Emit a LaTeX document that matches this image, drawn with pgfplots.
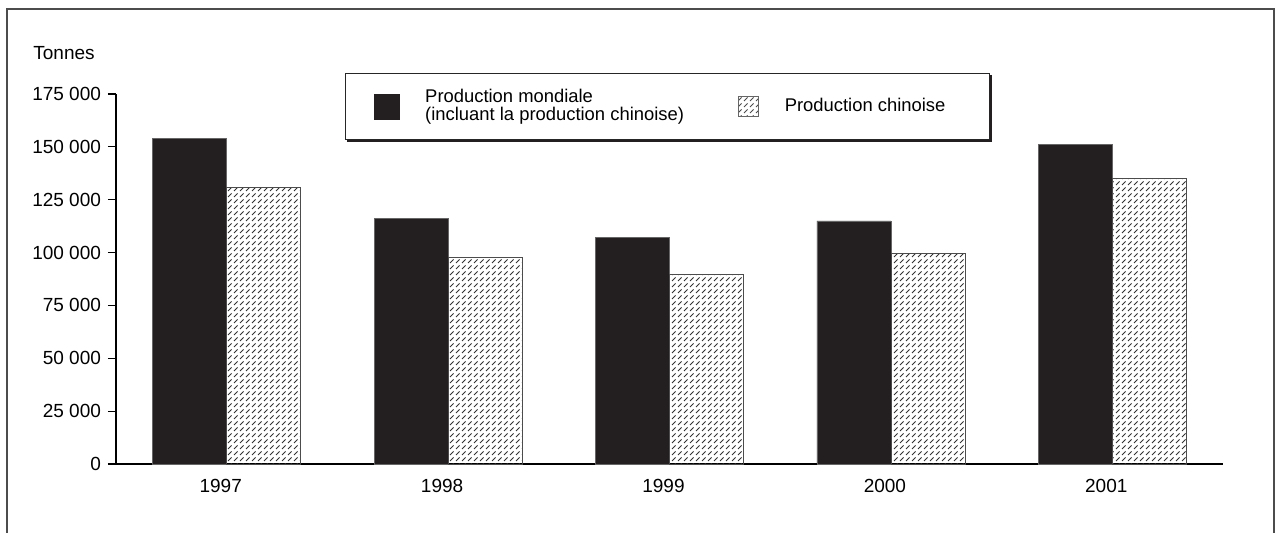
\documentclass[border=0pt]{standalone}
\usepackage{pgfplots}
\pgfplotsset{compat=1.18}
\usepackage{fontspec}
\setmainfont{Liberation Sans}
\usetikzlibrary{patterns}
\definecolor{barblack}{HTML}{231F20}
\pgfdeclarepatternformonly{dashdiag}{\pgfqpoint{-1pt}{-1pt}}{\pgfqpoint{4pt}{4pt}}{\pgfqpoint{3pt}{3pt}}{%
  \pgfsetlinewidth{0.5pt}%
  \pgfpathmoveto{\pgfqpoint{0pt}{0pt}}\pgfpathlineto{\pgfqpoint{1.8pt}{1.8pt}}\pgfusepath{stroke}}
\begin{document}
\begin{tikzpicture}
\path[use as bounding box] (0pt,0pt) rectangle (637.5pt,266.5pt);
\draw[line width=1pt, black!70] (3.5pt,0pt) -- (3.5pt,262pt) -- (637pt,262pt) -- (637pt,0pt);
\node[anchor=west, font=\fontsize{9.5}{10}\selectfont, inner sep=0pt] at (16.5pt,240pt) {Tonnes};
\begin{axis}[
  at={(58pt,34.5pt)}, anchor=south west,
  scale only axis, width=553.5pt, height=185pt,
  ybar=0pt, bar width=37pt,
  xmin=-0.5, xmax=4.5, ymin=0, ymax=175000,
  axis x line*=bottom, axis y line*=left,
  axis line style={line width=0.6pt, black},
  xtick={0,1,2,3,4}, xticklabels={1997,1998,1999,2000,2001},
  x tick style={draw=none},
  ytick={0,25000,50000,75000,100000,125000,150000,175000},
  yticklabels={0,25 000,50 000,75 000,100 000,125 000,150 000,175 000},
  y tick style={black, line width=0.6pt},
  tick align=outside, major tick length=4pt,
  scaled y ticks=false,
  xticklabel style={font=\fontsize{9.5}{10}\selectfont, xshift=-3pt},
  yticklabel style={font=\fontsize{9.5}{10}\selectfont, anchor=east},
  clip=false,
  legend columns=2,
  legend cell align=left,
  legend style={name=leg, at={(0.2069,1.0568)}, anchor=north west, draw=black!85, line width=0.6pt,
    inner xsep=14pt, inner ysep=7.75pt, font=\fontsize{9.2}{9.2}\selectfont,
    cells={align=left, anchor=west}, nodes={inner sep=0pt},
    /tikz/every odd column/.append style={column sep=13pt},
    /tikz/every even column/.append style={column sep=27pt}},
]
\addplot[fill=barblack, draw=black!60, line width=0.3pt,
  legend image code/.code={\fill[barblack] (0pt,-6.25pt) rectangle (12.5pt,6.25pt);}]
  coordinates {(0,154000) (1,116000) (2,107000) (3,115000) (4,151000)};
\addlegendentry{Production mondiale\\(incluant la production chinoise)}
\addplot[pattern=dashdiag, pattern color=black!80, draw=black!70, line width=0.4pt,
  legend image code/.code={\draw[black!60, line width=0.4pt, pattern=dashdiag, pattern color=black!70] (0pt,-5pt) rectangle (10pt,5pt);}]
  coordinates {(0,131000) (1,97500) (2,89500) (3,99500) (4,135000)};
\addlegendentry{Production chinoise\hspace*{8pt}}
\end{axis}
\draw[line width=1.3pt, barblack] ([xshift=0.9pt,yshift=-0.6pt]leg.south west) -- ([xshift=0.6pt,yshift=-0.6pt]leg.south east) -- ([xshift=0.6pt,yshift=-0.9pt]leg.north east);
\end{tikzpicture}
\end{document}
